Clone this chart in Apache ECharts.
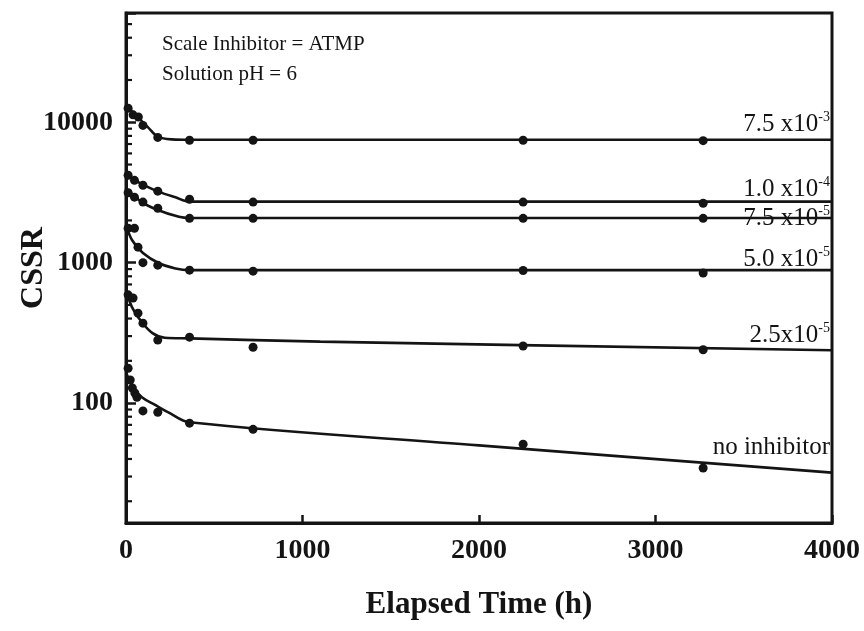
<!DOCTYPE html>
<html>
<head>
<meta charset="utf-8">
<script src="https://cdn.jsdelivr.net/npm/echarts@6/dist/echarts.min.js"></script>
<style>
  html, body { margin: 0; padding: 0; background: #fff; }
  #chart { width: 864px; height: 631px; }
</style>
</head>
<body>
<div id="chart"></div>
<script>
// CSSR vs elapsed time for ATMP at pH 6, one set per inhibitor concentration.
// Measured points (h, CSSR) and fitted curves (h, CSSR).

// 7.5 x10^-3
const ptsHourA = [12, 40, 70, 96, 180, 360, 720, 2250, 3270];
const ptsCssrA = [12600, 11300, 10900, 9500, 7800, 7450, 7450, 7450, 7400];
const fitHourA = [0, 40, 70, 125, 180, 260, 360, 4000];
const fitCssrA = [13000, 11800, 10800, 9200, 7900, 7550, 7500, 7500];

// 1.0 x10^-4
const ptsHourB = [12, 48, 96, 180, 360, 720, 2250, 3270];
const ptsCssrB = [4200, 3860, 3560, 3230, 2830, 2700, 2700, 2650];
const fitHourB = [0, 50, 125, 190, 280, 360, 4000];
const fitCssrB = [4300, 3870, 3450, 3180, 2920, 2720, 2720];

// 7.5 x10^-5
const ptsHourC = [12, 48, 96, 180, 360, 720, 2250, 3270];
const ptsCssrC = [3150, 2930, 2700, 2440, 2070, 2070, 2070, 2070];
const fitHourC = [0, 90, 180, 300, 360, 4000];
const fitCssrC = [3400, 2700, 2370, 2120, 2080, 2080];

// 5.0 x10^-5
const ptsHourD = [12, 48, 68, 96, 180, 360, 720, 2250, 3270];
const ptsCssrD = [1760, 1760, 1290, 1000, 960, 885, 870, 880, 845];
const fitHourD = [0, 34, 96, 187, 280, 360, 4000];
const fitCssrD = [1850, 1450, 1170, 990, 910, 885, 885];

// 2.5 x10^-5
const ptsHourE = [12, 40, 68, 96, 180, 360, 720, 2250, 3270];
const ptsCssrE = [590, 560, 437, 371, 281, 295, 250, 255, 240];
const fitHourE = [0, 34, 90, 150, 220, 360, 1100, 4000];
const fitCssrE = [640, 482, 377, 315, 292, 289, 274, 238];

// no inhibitor
const ptsHourF = [12, 24, 36, 50, 62, 96, 180, 360, 720, 2250, 3270];
const ptsCssrF = [177, 146, 128, 118, 110, 88, 86, 72, 65, 51, 34.5];
const fitHourF = [0, 40, 90, 165, 240, 360, 2000, 4000];
const fitCssrF = [165, 130, 110, 97, 86, 73, 50, 32];

// curve labels: mantissa text and superscript exponent
const curveLabels = ['7.5 x10', '1.0 x10', '7.5 x10', '5.0 x10', '2.5x10', 'no inhibitor'];
const curveExponents = ['-3', '-4', '-5', '-5', '-5', ''];

// axis ranges and labelled ticks
const xTicks = [0, 1000, 2000, 3000, 4000];
const yMajorTicks = [100, 1000, 10000];
const yMin = 14, yMax = 60000;

const annotation = ['Scale Inhibitor = ATMP', 'Solution pH = 6'];

const zip = (h, v) => h.map((t, i) => [t, v[i]]);

const pointSets = [
  zip(ptsHourA, ptsCssrA), zip(ptsHourB, ptsCssrB), zip(ptsHourC, ptsCssrC),
  zip(ptsHourD, ptsCssrD), zip(ptsHourE, ptsCssrE), zip(ptsHourF, ptsCssrF)
];
const fitSets = [
  zip(fitHourA, fitCssrA), zip(fitHourB, fitCssrB), zip(fitHourC, fitCssrC),
  zip(fitHourD, fitCssrD), zip(fitHourE, fitCssrE), zip(fitHourF, fitCssrF)
];

// minor log ticks 2..9 in each decade
const minorTicks = [];
[10, 100, 1000, 10000].forEach(d => {
  for (let m = 2; m <= 9; m++) {
    const v = m * d;
    if (v > yMin && v < yMax) minorTicks.push([0, v]);
  }
});

const INK = '#141414';
const SERIF = '"Liberation Serif", "Times New Roman", serif';

const chart = echarts.init(document.getElementById('chart'), null, { renderer: 'canvas' });

const series = [];
fitSets.forEach(d => {
  series.push({
    type: 'line', data: d, showSymbol: false, smooth: 0.35,
    lineStyle: { color: INK, width: 2.6 }, silent: true, z: 3, animation: false
  });
});
pointSets.forEach(d => {
  series.push({
    type: 'scatter', data: d, symbol: 'circle', symbolSize: 9,
    itemStyle: { color: INK, opacity: 1 }, z: 4, animation: false
  });
});
series.push({
  type: 'custom', data: minorTicks, z: 5, animation: false, silent: true,
  renderItem: (params, api) => {
    const p = api.coord([0, api.value(1)]);
    return {
      type: 'line',
      shape: { x1: p[0], y1: p[1], x2: p[0] + 6, y2: p[1] },
      style: { stroke: INK, lineWidth: 2.2 }
    };
  }
});

chart.setOption({
  backgroundColor: '#fff',
  animation: false,
  grid: {
    left: 126, right: 32, top: 13, bottom: 108,
    containLabel: false, outerBoundsMode: 'none',
    show: true, borderColor: INK, borderWidth: 3, backgroundColor: 'transparent'
  },
  xAxis: {
    type: 'value', min: xTicks[0], max: xTicks[xTicks.length - 1], interval: 1000,
    name: 'Elapsed Time (h)', nameLocation: 'middle', nameGap: 66,
    nameTextStyle: { fontFamily: SERIF, fontWeight: 'bold', fontSize: 31, color: INK },
    axisLine: { show: true, lineStyle: { color: INK, width: 3 } },
    axisTick: { show: true, inside: true, length: 8, lineStyle: { color: INK, width: 2.5 } },
    axisLabel: {
      margin: 14, fontFamily: SERIF, fontWeight: 'bold', fontSize: 28, color: INK,
      formatter: v => String(v)
    },
    splitLine: { show: false }
  },
  yAxis: {
    type: 'log', logBase: 10, min: yMin, max: yMax,
    name: 'CSSR', nameLocation: 'middle', nameGap: 76, nameRotate: 90,
    nameMoveOverlap: false,
    nameTextStyle: { fontFamily: SERIF, fontWeight: 'bold', fontSize: 32, color: INK },
    axisLine: { show: true, lineStyle: { color: INK, width: 3 } },
    axisTick: { show: true, inside: true, length: 10, lineStyle: { color: INK, width: 2.5 } },
    axisLabel: {
      margin: 13, fontFamily: SERIF, fontWeight: 'bold', fontSize: 28, color: INK,
      formatter: v => {
        const hit = yMajorTicks.find(t => Math.abs(Math.log10(v) - Math.log10(t)) < 1e-6);
        return hit ? String(hit) : '';
      }
    },
    splitLine: { show: false }
  },
  series: series
});

// curve labels sit at the right end of each fitted curve
const labelDy = [-15, -12, 0, -11, -15, -25];
const graphics = [];
fitSets.forEach((d, i) => {
  const end = d[d.length - 1];
  const p = chart.convertToPixel({ gridIndex: 0 }, end);
  const exp = curveExponents[i];
  graphics.push({
    type: 'text', z: 10,
    x: p[0] - 2, y: p[1] + labelDy[i],
    style: {
      text: exp ? '{m|' + curveLabels[i] + '}{e|' + exp + '}' : '{m|' + curveLabels[i] + '}',
      align: 'right', verticalAlign: 'middle',
      rich: {
        m: { fontFamily: SERIF, fontSize: 25, fill: INK, lineHeight: 28 },
        e: { fontFamily: SERIF, fontSize: 14, fill: INK, verticalAlign: 'top', lineHeight: 28 }
      }
    }
  });
});
annotation.forEach((t, i) => {
  graphics.push({
    type: 'text', z: 10, left: 162, top: 34 + i * 30,
    style: { text: t, fontFamily: SERIF, fontSize: 21, fill: INK }
  });
});
chart.setOption({ graphic: graphics });
</script>
</body>
</html>
